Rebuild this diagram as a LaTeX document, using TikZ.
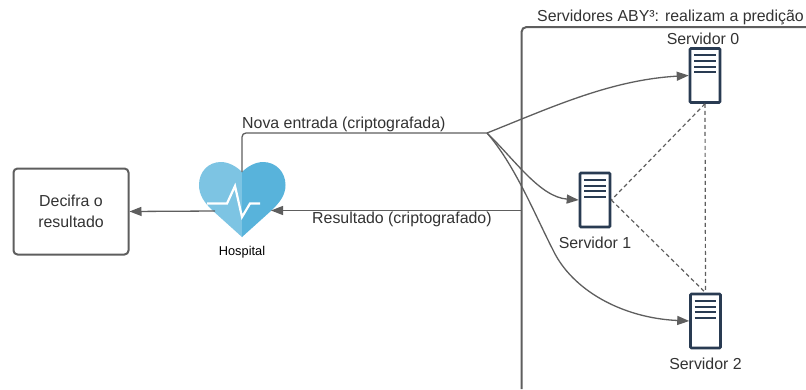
\documentclass[tikz,border=0pt]{standalone}
\usepackage{fontspec}
\setmainfont{Liberation Sans}
\usetikzlibrary{arrows.meta}
\definecolor{linegray}{HTML}{5E5E5E}
\definecolor{srvnavy}{HTML}{293B52}
\definecolor{txtgray}{HTML}{333333}
\definecolor{heartL}{HTML}{7DC4E3}
\definecolor{heartR}{HTML}{58B3DB}
\tikzset{
  x=1pt,y=-1pt,
  conn/.style={draw=linegray,line width=1.3pt,-{Triangle[length=12pt,width=9pt]}},
  plainline/.style={draw=linegray,line width=1.3pt},
  peer/.style={draw=linegray,line width=1.2pt,dash pattern=on 4pt off 3pt},
  label/.style={text=txtgray,font=\fontsize{15.9}{18}\selectfont,inner sep=0pt},
  srv/.style={draw=srvnavy,line width=2.6pt,fill=white,rounded corners=1pt,minimum width=30pt,minimum height=54pt,inner sep=0pt},
  srvbar/.style={draw=srvnavy,line width=2.2pt},
}
\newcommand{\srvbars}[1]{%
  \foreach \d in {8,14,19.5,25}{
    \draw[srvbar] ([xshift=5.5pt,yshift=-\d pt]#1.north west) -- ([xshift=-5.5pt,yshift=-\d pt]#1.north east);
  }}
\begin{document}
\begin{tikzpicture}
\useasboundingbox (0,0) rectangle (806,389);
\fill[white] (0,0) rectangle (806,389);
% container
\coordinate (regionBottom) at (521.5,389);
\coordinate (regionRight) at (806,27);
\draw[draw=linegray,line width=2pt,rounded corners=5pt] (regionBottom) |- (regionRight);
\node[label,anchor=base west] (regionLabel) at (537,21) {Servidores ABY³: realizam a predição};
% box
\node[draw=linegray,line width=2pt,rounded corners=4pt,minimum width=115pt,minimum height=86pt,fill=white,inner sep=0pt,align=center,text=txtgray,font=\fontsize{15.9}{21}\selectfont] (decifra) at (71,211.5) {Decifra o\\resultado};
% heart
\coordinate (hospital) at (242,200);
\fill[heartL] (242,172) .. controls (236,166) and (228,162) .. (221,162)
  .. controls (208,162) and (199,172) .. (199,185)
  .. controls (199,195) and (204,202) .. (212,210) -- (242,237) -- cycle;
\fill[heartR] (242,172) .. controls (248,166) and (256,162) .. (263,162)
  .. controls (276,162) and (285.5,172) .. (285.5,185)
  .. controls (285.5,195) and (280,202) .. (272,210) -- (242,237) -- cycle;
\draw[white,line width=2.2pt,line join=miter] (207,203.5) -- (227,203.5) -- (235,186) -- (242,217) -- (250,203.5) -- (260,203.5);
\node[inner sep=0pt,text=black,font=\fontsize{12.8}{14}\selectfont,anchor=base] (hospLabel) at (242,255) {Hospital};
% servers
\node[srv] (s0) at (705,75.5) {}; \srvbars{s0}
\node[srv] (s1) at (595,200) {}; \srvbars{s1}
\node[srv] (s2) at (705.5,321) {}; \srvbars{s2}
\node[label,anchor=base] (s0l) at (703,44) {Servidor 0};
\node[label,anchor=base] (s1l) at (595,248) {Servidor 1};
\node[label,anchor=base] (s2l) at (705.5,369) {Servidor 2};
% dashed
\draw[peer] (s0.south) -- (s2.north);
\draw[peer] (s0.south) -- (s1.east);
\draw[peer] (s1.east) -- (s2.north);
% connectors
\coordinate (hub) at (487,133);
\coordinate (bend) at (553,250);
\coordinate (heartTop) at (242,172);
\coordinate (regionIn) at (521,210.5);
\coordinate (heartRightEdge) at (271,210.5);
\coordinate (heartLeftEdge) at (215,211);
\draw[plainline,rounded corners=4pt] (heartTop) |- (hub);
\draw[conn] (hub) .. controls (550,108) and (610,80) .. (s0.west);
\draw[conn] (hub) .. controls (515,160) and (540,197) .. (s1.west);
\draw[conn] (hub) .. controls (515,165) and (535,215) .. (bend) .. controls (572,290) and (622,318) .. (s2.west);
\draw[conn] (regionIn) -- (heartRightEdge);
\draw[conn] (heartLeftEdge) -- (decifra.east);
\node[label,anchor=base west] (novaL) at (242,128) {Nova entrada (criptografada)};
\node[label,anchor=base west] (resL) at (312,223) {Resultado (criptografado)};
\end{tikzpicture}
\end{document}
